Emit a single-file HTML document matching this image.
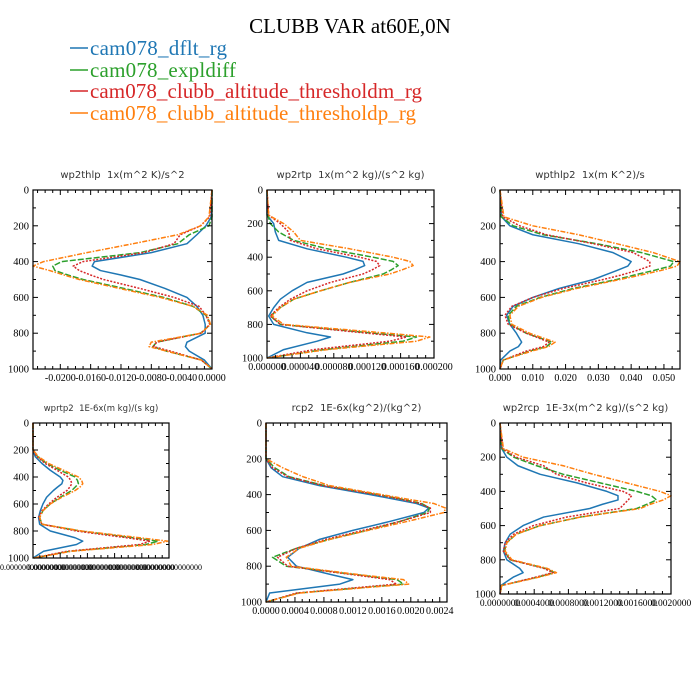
<!DOCTYPE html>
<html><head><meta charset="utf-8"><style>
body{margin:0;background:#fff;}
svg{display:block;}
text{white-space:pre;}
</style></head><body>
<svg id="chart" width="700" height="700" viewBox="0 0 700 700" xmlns="http://www.w3.org/2000/svg">
<rect width="700" height="700" fill="#fff"/>
<text x="350" y="33" text-anchor="middle" font-family="Liberation Serif, serif" font-size="21" fill="#000">CLUBB VAR at60E,0N</text>
<g>
 <g><line x1="70" y1="48" x2="88" y2="48" stroke="#1f77b4" stroke-width="1.5"/><text x="90" y="55" font-family="Liberation Serif, serif" font-size="21" fill="#1f77b4" textLength="137">cam078_dflt_rg</text></g>
 <g><line x1="70" y1="70" x2="88" y2="70" stroke="#2ca02c" stroke-width="1.5"/><text x="90" y="77" font-family="Liberation Serif, serif" font-size="21" fill="#2ca02c" textLength="146">cam078_expldiff</text></g>
 <g><line x1="70" y1="91" x2="88" y2="91" stroke="#d62728" stroke-width="1.5"/><text x="90" y="98" font-family="Liberation Serif, serif" font-size="21" fill="#d62728" textLength="332">cam078_clubb_altitude_thresholdm_rg</text></g>
 <g><line x1="70" y1="113" x2="88" y2="113" stroke="#ff7f0e" stroke-width="1.5"/><text x="90" y="120" font-family="Liberation Serif, serif" font-size="21" fill="#ff7f0e" textLength="326">cam078_clubb_altitude_thresholdp_rg</text></g>
</g>
</svg>
<script>
const levels = [0,150,200,250,300,350,400,425,450,475,500,550,600,650,700,750,800,850,875,900,950,1000];
const yTicks = [0,200,400,600,800,1000];
const seriesNames = ['dflt','expldiff','thresholdm','thresholdp'];

const p1Blue = [0,-0.0001,-0.0008,-0.002,-0.0033,-0.008,-0.0155,-0.0158,-0.0147,-0.012,-0.0095,-0.0062,-0.0033,-0.002,-0.0012,-0.0009,-0.0009,-0.0033,-0.0035,-0.003,-0.001,0];
const p1Green = [0,0,-0.0004,-0.003,-0.0045,-0.0095,-0.0198,-0.021,-0.0207,-0.019,-0.017,-0.0116,-0.0064,-0.0025,-0.0008,-0.0002,-0.0015,-0.0073,-0.0078,-0.006,-0.0014,0];
const p1Red = [0,-0.0003,-0.0015,-0.0042,-0.005,-0.009,-0.017,-0.0183,-0.0175,-0.016,-0.0143,-0.0095,-0.005,-0.0017,-0.0008,-0.0003,-0.0014,-0.0073,-0.0077,-0.0055,-0.0014,0];
const p1Orange = [0,-0.0004,-0.0015,-0.0045,-0.0104,-0.0165,-0.0222,-0.0236,-0.0214,-0.0195,-0.0175,-0.0122,-0.0068,-0.0025,-0.0006,-0.0002,-0.0014,-0.008,-0.0083,-0.006,-0.0014,0];
const p1Ticks = [-0.02,-0.016,-0.012,-0.008,-0.004,0];
const p1Labels = ['-0.0200','-0.0160','-0.0120','-0.0080','-0.0040','0.0000'];

const p2Blue = [0,0,0.08e-4,0.1e-4,0.14e-4,0.48e-4,0.95e-4,1.15e-4,1.17e-4,1.05e-4,0.91e-4,0.48e-4,0.3e-4,0.16e-4,0.08e-4,0.02e-4,0.08e-4,0.48e-4,0.76e-4,0.6e-4,0.2e-4,0];
const p2Green = [0,0.01e-4,0.04e-4,0.14e-4,0.32e-4,0.72e-4,1.27e-4,1.51e-4,1.57e-4,1.49e-4,1.39e-4,0.99e-4,0.64e-4,0.32e-4,0.16e-4,0.04e-4,0.16e-4,1.23e-4,1.79e-4,1.63e-4,0.68e-4,0];
const p2Red = [0,0.02e-4,0.16e-4,0.26e-4,0.28e-4,0.6e-4,1.11e-4,1.31e-4,1.35e-4,1.26e-4,1.15e-4,0.76e-4,0.48e-4,0.28e-4,0.14e-4,0.04e-4,0.16e-4,1.15e-4,1.67e-4,1.47e-4,0.56e-4,0];
const p2Orange = [0,0.02e-4,0.2e-4,0.32e-4,0.4e-4,0.99e-4,1.51e-4,1.71e-4,1.75e-4,1.62e-4,1.47e-4,0.99e-4,0.64e-4,0.32e-4,0.16e-4,0.06e-4,0.2e-4,1.39e-4,1.95e-4,1.79e-4,0.72e-4,0];
const p2Ticks = [0,0.00004,0.00008,0.00012,0.00016,0.0002];
const p2Labels = ['0.000000','0.000040','0.000080','0.000120','0.000160','0.000200'];

const p3Blue = [0,0.0005,0.003,0.010,0.024,0.0345,0.040,0.039,0.0356,0.032,0.0285,0.018,0.010,0.004,0.002,0.003,0.005,0.0066,0.0056,0.003,0.0002,0];
const p3Green = [0,0.0004,0.004,0.0132,0.0295,0.0432,0.053,0.052,0.0468,0.041,0.0356,0.0224,0.0122,0.005,0.0025,0.003,0.008,0.0158,0.0142,0.009,0.001,0];
const p3Red = [0,0.0008,0.006,0.0142,0.0285,0.0407,0.0457,0.0457,0.0417,0.037,0.0315,0.0193,0.010,0.0036,0.0015,0.0025,0.008,0.015,0.0132,0.008,0.001,0];
const p3Orange = [0,0.0012,0.010,0.024,0.0356,0.0468,0.0549,0.054,0.049,0.043,0.0366,0.0234,0.0127,0.0056,0.003,0.0036,0.009,0.0168,0.0148,0.0097,0.001,0];
const p3Ticks = [0,0.01,0.02,0.03,0.04,0.05];
const p3Labels = ['0.000','0.010','0.020','0.030','0.040','0.050'];

const p4Blue = [0,0,0,0.017,0.066,0.127,0.2,0.22,0.212,0.18,0.15,0.10,0.073,0.054,0.041,0.049,0.127,0.31,0.366,0.32,0.078,0];
const p4Green = [0,0,0,0.034,0.102,0.2,0.31,0.327,0.334,0.31,0.285,0.2,0.127,0.073,0.049,0.066,0.346,0.737,0.92,0.83,0.27,0.005];
const p4Red = [0,0,0,0.03,0.09,0.176,0.26,0.278,0.285,0.27,0.25,0.176,0.115,0.066,0.041,0.066,0.32,0.688,0.86,0.785,0.25,0.005];
const p4Orange = [0,0,0,0.041,0.115,0.224,0.334,0.358,0.366,0.345,0.31,0.212,0.127,0.073,0.049,0.066,0.358,0.785,0.99,0.88,0.285,0.005];
const p4Ticks = [0,0.2,0.4,0.6,0.8,1.0];
const p4Labels = ['0.000000000000000','0.000000000000000','0.000000000000000','0.000000000000000','0.000000000000000','0.000000000000000'];

const p5Blue = [0,0,0,0.00007,0.00023,0.00074,0.00144,0.00176,0.00208,0.00225,0.00218,0.00171,0.0012,0.00074,0.00046,0.0003,0.00042,0.00093,0.0012,0.00102,0.00005,0];
const p5Green = [0,0,0,0.00012,0.00032,0.00081,0.00155,0.00187,0.00215,0.00226,0.00223,0.00185,0.00139,0.00088,0.00042,0.00009,0.00028,0.0013,0.00181,0.0019,0.00044,0];
const p5Red = [0,0,0,0.00009,0.0003,0.00079,0.00153,0.00185,0.00213,0.00227,0.00227,0.00185,0.00134,0.00083,0.00042,0.00016,0.0003,0.00125,0.00171,0.0018,0.00042,0];
const p5Orange = [0,0,0,0.00023,0.00051,0.00088,0.0016,0.00195,0.00232,0.00248,0.00246,0.00195,0.00141,0.00088,0.00046,0.00028,0.00035,0.00134,0.0019,0.00197,0.00046,0];
const p5Ticks = [0,0.0004,0.0008,0.0012,0.0016,0.002,0.0024];
const p5Labels = ['0.0000','0.0004','0.0008','0.0012','0.0016','0.0020','0.0024'];

const p6Blue = [0,0.00002,0.00008,0.00021,0.00047,0.0009,0.00125,0.00138,0.00138,0.0012,0.00105,0.00051,0.00027,0.00012,0.00006,0.00004,0.00008,0.00023,0.00027,0.00016,0.00001,0];
const p6Green = [0,0.00002,0.00016,0.00043,0.00074,0.00117,0.0016,0.00177,0.00183,0.00172,0.0016,0.00094,0.00047,0.00019,0.00008,0.00005,0.00012,0.00053,0.00064,0.00045,0.00002,0];
const p6Red = [0,0.00003,0.00019,0.00051,0.00066,0.00101,0.00144,0.00154,0.0015,0.00145,0.0014,0.00078,0.00039,0.00016,0.00006,0.00004,0.00012,0.00051,0.00062,0.00043,0.00002,0];
const p6Orange = [0,0.00004,0.00027,0.00074,0.00109,0.00148,0.00187,0.002,0.00191,0.00176,0.00164,0.00094,0.00047,0.00019,0.00008,0.00006,0.00014,0.00055,0.00066,0.00047,0.00002,0];
const p6Ticks = [0,0.0004,0.0008,0.0012,0.0016,0.002];
const p6Labels = ['0.0000000','0.0004000','0.0008000','0.0012000','0.0016000','0.0020000'];

const NS = 'http://www.w3.org/2000/svg';
const svg = document.getElementById('chart');
const colors = ['#1f77b4','#2ca02c','#d62728','#ff7f0e'];
const dashes = ['', '6,2', '2,1.5', '5,1.5,1.5,1.5'];

const panels = [
 {name:'wp2thlp', title:'wp2thlp  1x(m^2 K)/s^2', L:33,R:212,T:190,B:369, xmin:-0.0236, xmax:0, s:[p1Blue,p1Green,p1Red,p1Orange], ticks:p1Ticks, labels:p1Labels, fs:10},
 {name:'wp2rtp', title:'wp2rtp  1x(m^2 kg)/(s^2 kg)', L:267,R:434,T:190,B:358, xmin:0, xmax:0.0002, s:[p2Blue,p2Green,p2Red,p2Orange], ticks:p2Ticks, labels:p2Labels, fs:10},
 {name:'wpthlp2', title:'wpthlp2  1x(m K^2)/s', L:500,R:680,T:190,B:369, xmin:0, xmax:0.0549, s:[p3Blue,p3Green,p3Red,p3Orange], ticks:p3Ticks, labels:p3Labels, fs:10},
 {name:'wprtp2', title:'wprtp2  1E-6x(m kg)/(s kg)', L:33,R:169,T:423,B:558, xmin:0, xmax:1.0, s:[p4Blue,p4Green,p4Red,p4Orange], ticks:p4Ticks, labels:p4Labels, fs:8},
 {name:'rcp2', title:'rcp2  1E-6x(kg^2)/(kg^2)', L:266,R:447,T:423,B:602, xmin:0, xmax:0.0025, s:[p5Blue,p5Green,p5Red,p5Orange], ticks:p5Ticks, labels:p5Labels, fs:10},
 {name:'wp2rcp', title:'wp2rcp  1E-3x(m^2 kg)/(s^2 kg)', L:500,R:671,T:423,B:594, xmin:0, xmax:0.002, s:[p6Blue,p6Green,p6Red,p6Orange], ticks:p6Ticks, labels:p6Labels, fs:9.5}
];

function mk(tag, attrs, parent){
  const e = document.createElementNS(NS, tag);
  for (const k in attrs) e.setAttribute(k, attrs[k]);
  parent.appendChild(e);
  return e;
}

panels.forEach(p => {
  const g = mk('g', {}, svg);
  
  
  const xs = v => p.L + (v - p.xmin) / (p.xmax - p.xmin) * (p.R - p.L);
  const ys = v => p.T + v / 1000 * (p.B - p.T);
  const t = mk('text', {x:(p.L+p.R)/2, y:p.T-12, 'text-anchor':'middle', 'font-family':'DejaVu Sans, sans-serif', 'font-size': p.name==='wprtp2'?8.5:10, fill:'#333'}, g);
  t.textContent = p.title;
  
  
  p.s.forEach((vals, i) => {
    const d = vals.map((v, j) => (j ? 'L' : 'M') + xs(v).toFixed(2) + ',' + ys(levels[j]).toFixed(2)).join('');
    const path = mk('path', {d:d, fill:'none', stroke:colors[i], 'stroke-width':1.5, 'stroke-dasharray':dashes[i], 'stroke-linejoin':'round'}, g);
    
    
  });
  const fr = mk('rect', {x:p.L, y:p.T, width:p.R-p.L, height:p.B-p.T, fill:'none', stroke:'#000', 'stroke-width':1.2}, g);
  
  
  for (let v = 0; v <= 1000; v += 100) {
    const len = (v % 200 === 0) ? 5 : 3;
    const y = ys(v);
    mk('line', {x1:p.L, y1:y, x2:p.L+len, y2:y, stroke:'#000', 'stroke-width':1}, g);
    mk('line', {x1:p.R, y1:y, x2:p.R-len, y2:y, stroke:'#000', 'stroke-width':1}, g);
  }
  yTicks.forEach(v => {
    const tx = mk('text', {x:p.L-4, y:ys(v)+3.5, 'text-anchor':'end', 'font-family':'Liberation Serif, serif', 'font-size':10.5}, g);
    tx.textContent = String(v);
    
    
  });
  const step = p.ticks[1] - p.ticks[0];
  for (let k = -1; k < p.ticks.length; k++) {
    for (let m = 0; m < 4; m++) {
      const v = p.ticks[0] + k*step + m*step/4;
      if (v < Math.min(p.xmin,p.xmax) - 1e-12 || v > Math.max(p.xmin,p.xmax) + 1e-12) continue;
      const x = xs(v);
      const len = m === 0 ? 5 : 3;
      mk('line', {x1:x, y1:p.B, x2:x, y2:p.B-len, stroke:'#000', 'stroke-width':1}, g);
      mk('line', {x1:x, y1:p.T, x2:x, y2:p.T+len, stroke:'#000', 'stroke-width':1}, g);
    }
  }
  p.ticks.forEach((v, i) => {
    const tx = mk('text', {x:xs(v), y:p.B+12, 'text-anchor':'middle', 'font-family':'Liberation Serif, serif', 'font-size':p.fs}, g);
    tx.textContent = p.labels[i];
    
    
  });
});
</script>
</body></html>
